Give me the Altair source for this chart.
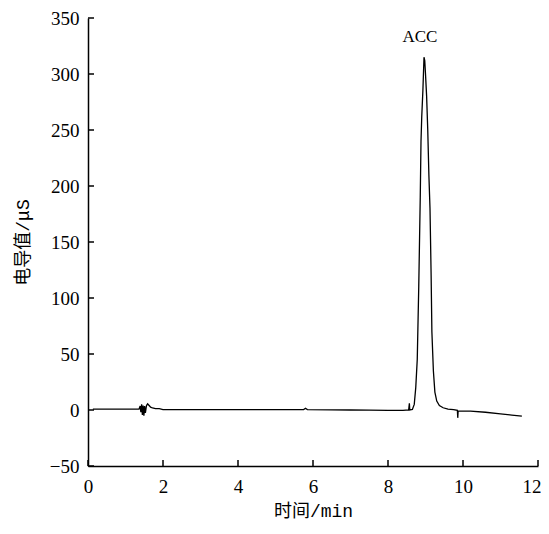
import altair as alt
import pandas as pd

# chromatogram trace (time in min, conductivity in μS)
time_min = [0.13, 0.6, 1.0, 1.36, 1.39, 1.41, 1.43, 1.45, 1.47, 1.49, 1.51, 1.53, 1.56, 1.59, 1.63, 1.67, 1.72, 1.8, 1.9, 2.0, 3.0, 4.0, 5.0, 5.75, 5.8, 5.85, 6.5, 7.0, 7.5, 8.0, 8.4, 8.55,
            8.57, 8.58, 8.65, 8.70, 8.74, 8.78, 8.82, 8.86, 8.88, 8.90, 8.93, 8.95, 8.96, 8.98, 9.00, 9.03, 9.06, 9.09, 9.12, 9.15, 9.17, 9.21, 9.25, 9.30, 9.37, 9.47, 9.6, 9.75,
            9.85, 9.86, 9.87, 10.2, 10.6, 11.0, 11.3, 11.57]
signal = [0.8, 0.8, 0.8, 0.8, 3.5, -2.0, 5.0, -4.5, 4.0, -5.0, 3.5, -2.5, 4.0, 5.5, 4.0, 2.5, 1.8, 1.2, 1.2, 0.4, 0.3, 0.3, 0.4, 0.4, 1.5, 0.4, 0.2, 0.0, -0.2, -0.3, -0.3, 0.0,
          6.0, 0.0, 0.5, 5.0, 20.0, 45.0, 110.0, 190.0, 240.0, 262.0, 285.0, 305.0, 315.0, 312.0, 300.0, 280.0, 250.0, 210.0, 180.0, 120.0, 70.0, 35.0, 16.0, 8.0, 4.0, 2.0, 0.8, 0.3,
          -0.3, -7.0, -1.0, -1.0, -2.0, -3.5, -4.5, -5.5]
x_ticks = [0, 2, 4, 6, 8, 10, 12]
y_ticks = [-50, 0, 50, 100, 150, 200, 250, 300, 350]
peak_label = ["ACC"]
peak_time = [8.85]
peak_value = [333]

df = pd.DataFrame({"t": time_min, "v": signal, "order": list(range(len(time_min)))})
xt = pd.DataFrame({"t": x_ticks})
yt = pd.DataFrame({"v": y_ticks})
lab = pd.DataFrame({"label": peak_label, "t": peak_time, "v": peak_value})

LABEL_FONT = "Liberation Serif"
TITLE_FONT = "Liberation Mono, Noto Sans CJK SC"
xscale = alt.Scale(domain=[0, 12], nice=False, zero=False)
yscale = alt.Scale(domain=[-50, 350], nice=False, zero=False)

W = 450
H = 448

line = alt.Chart(df).mark_line(color="black", strokeWidth=1.3).encode(
    x=alt.X("t:Q", scale=xscale, axis=alt.Axis(
        title="时间/min", values=x_ticks, ticks=False, labelFlush=False,
        labelAlign={"condition": {"test": "datum.value >= 12", "value": "right"}, "value": "center"},
        labelOffset={"condition": {"test": "datum.value >= 12", "value": 3}, "value": 0},
        labelPadding=11, titlePadding=6, grid=False)),
    y=alt.Y("v:Q", scale=yscale, axis=alt.Axis(title="电导值/μS", values=y_ticks, ticks=False,
                                               labelFlush=False, labelPadding=9, titlePadding=17,
                                               grid=False)),
    order="order:Q",
)

xtick = alt.Chart(xt).mark_rule(color="black", strokeWidth=1.5).encode(
    x=alt.X("t:Q", scale=xscale), y=alt.value(H), y2=alt.value(H - 6))
ytick = alt.Chart(yt).mark_rule(color="black", strokeWidth=1.5).encode(
    y=alt.Y("v:Q", scale=yscale), x=alt.value(0), x2=alt.value(6))

text = alt.Chart(lab).mark_text(font=LABEL_FONT, fontSize=17, color="black").encode(
    x=alt.X("t:Q", scale=xscale), y=alt.Y("v:Q", scale=yscale), text="label:N")

chart = alt.layer(line, xtick, ytick, text).properties(
    width=W, height=H,
    autosize=alt.AutoSizeParams(type="none"),
    padding={"left": 80, "top": 10, "right": 3, "bottom": 56},
).configure_view(stroke=None).configure_axis(
    domainColor="black", domainWidth=1.5, labelColor="black", titleColor="black",
    labelFont=LABEL_FONT, titleFont=TITLE_FONT, labelFontSize=19, titleFontSize=18,
    titleFontWeight="normal",
).configure_axisX(labelAngle=0)

chart.save("out.html", embed_options={"renderer": "svg", "actions": False})
